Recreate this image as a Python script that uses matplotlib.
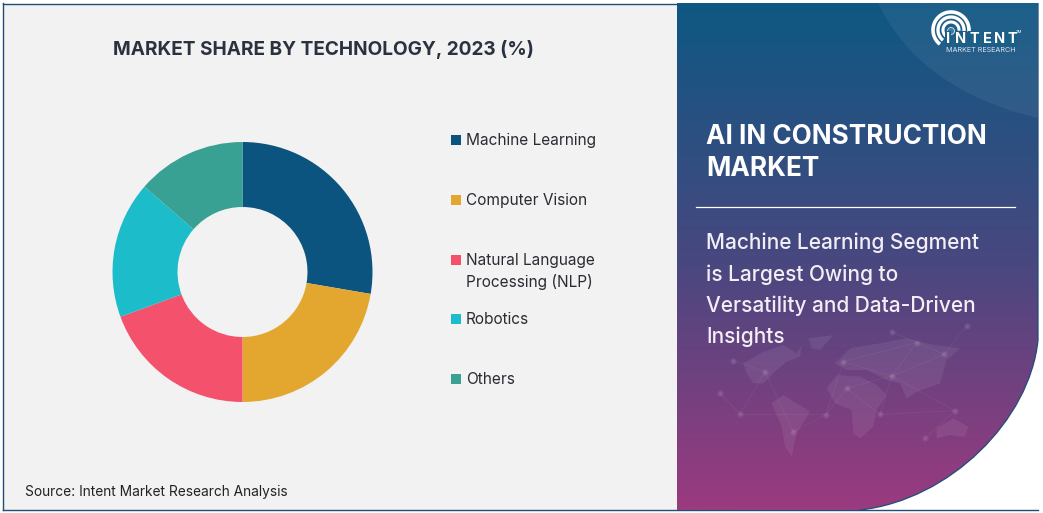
import numpy as np
import matplotlib
matplotlib.use("Agg")
import matplotlib.pyplot as plt
from matplotlib.patches import Rectangle, PathPatch, Polygon, Circle
from matplotlib.path import Path
from matplotlib.colors import LinearSegmentedColormap

categories = ["Machine Learning", "Computer Vision", "Natural Language\nProcessing (NLP)", "Robotics", "Others"]
shares = [27.7, 22.3, 19.4, 17.0, 13.6]
colors = ["#0B5480", "#E3A72F", "#F4516C", "#1CBCCB", "#38A194"]
legend_y = [140, 200, 260, 319, 379]
title = "MARKET SHARE BY TECHNOLOGY, 2023 (%)"
source = "Source: Intent Market Research Analysis"
panel_title = ["AI IN CONSTRUCTION", "MARKET"]
panel_lines = ["Machine Learning Segment", "is Largest Owing to", "Versatility and Data-Driven", "Insights"]

W, H = 1043, 513
plt.rcParams['font.family'] = ['Inter', 'DejaVu Sans']
fig = plt.figure(figsize=(W/100, H/100), dpi=100, facecolor="white")
bg = fig.add_axes([0, 0, 1, 1])
bg.set_xlim(0, W); bg.set_ylim(H, 0); bg.axis("off")

# left panel and frame
bg.add_patch(Rectangle((3, 4), 675, 506, fc="#F2F2F2", ec="none", zorder=1))
bg.plot([3, 677], [3.5, 3.5], color="#1F4E79", lw=1, zorder=2)
bg.plot([3, 1038], [510, 510], color="#1F4E79", lw=1, zorder=2)
bg.plot([2.5, 2.5], [3, 510], color="#1F4E79", lw=1, zorder=2)

# right panel gradient
cmap = LinearSegmentedColormap.from_list("p", [(0, "#0E5883"), (0.5, "#47487F"), (1, "#9B3A80")])
grad = np.linspace(0, 1, 512)[:, None]
im = bg.imshow(grad, cmap=cmap, extent=[677, 1038, 510, 3], aspect="auto", zorder=3)
clip = Path([(677, 3), (1038, 3), (1038, 340), (1030, 420), (950, 500), (860, 510), (677, 510), (677, 3)],
            [Path.MOVETO, Path.LINETO, Path.LINETO, Path.CURVE4, Path.CURVE4, Path.CURVE4, Path.LINETO, Path.CLOSEPOLY])
clip_patch = PathPatch(clip, transform=bg.transData, fc="none", ec="none")
bg.add_patch(clip_patch)
im.set_clip_path(clip_patch)
bg.set_xlim(0, W); bg.set_ylim(H, 0)
edge = PathPatch(Path(clip.vertices[1:6], [Path.MOVETO, Path.LINETO, Path.CURVE4, Path.CURVE4, Path.CURVE4]),
                 fc="none", ec="#1F4E79", lw=0.9, zorder=4)
bg.add_patch(edge)

# light corner
corner = Path([(878, 3), (920, 90), (1038, 118), (1038, 3), (878, 3)],
              [Path.MOVETO, Path.CURVE3, Path.CURVE3, Path.LINETO, Path.CLOSEPOLY])
bg.add_patch(PathPatch(corner, fc="white", alpha=0.06, ec="none", zorder=4))

# faint world map
def zm(pts):
    return [(720 + u/3, 320 + v/3) for u, v in pts]
blobs = [
    [(70,130),(130,95),(190,75),(230,100),(245,75),(240,110),(200,125),(170,150),(130,190),(100,190),(80,160)],
    [(265,55),(340,45),(300,90),(275,85)],
    [(155,250),(190,225),(270,275),(230,340),(215,410),(195,380),(185,320)],
    [(320,205),(350,165),(420,170),(470,195),(500,225),(470,270),(460,320),(420,355),(400,340),(395,270),(345,250)],
    [(345,130),(390,85),(480,70),(560,55),(640,75),(720,85),(680,120),(660,190),(620,205),(590,215),(560,235),(540,190),(500,180),(440,150),(380,150)],
    [(650,325),(700,295),(745,320),(735,350),(690,345),(650,355)],
]
for b in blobs:
    bg.add_patch(Polygon(zm(b), closed=True, fc="white", alpha=0.07, ec="none", zorder=4))
nodes = zm([(40,122),(135,155),(60,283),(220,335),(318,284),(380,205),(515,168),(370,125),(590,68),(672,103),(705,272),(480,283),(515,35),(740,18),(615,355),(0,220)])
links = [(0,1),(1,2),(2,4),(3,4),(4,5),(5,6),(6,7),(6,8),(8,9),(6,10),(10,11),(11,5),(6,11),(7,8),(1,3),(9,13),(12,8),(10,14),(15,2),(7,4),(6,9)]
for a, b in links:
    bg.plot(*zip(nodes[a], nodes[b]), color="white", alpha=0.06, lw=0.6, zorder=4)
bg.scatter(*zip(*nodes), s=22, color="white", alpha=0.07, lw=0, zorder=4)
bg.scatter(*zip(*nodes), s=7, color="white", alpha=0.07, lw=0, zorder=4)

# donut
ax = fig.add_axes([(242.5-130)/W, 1-(272+130)/H, 260/W, 260/H])
ax.pie(shares, colors=colors, startangle=90, counterclock=False, radius=1,
       wedgeprops=dict(width=0.5, linewidth=0))
ax.set_xlim(-1, 1); ax.set_ylim(-1, 1); ax.set_aspect("equal")

# legend
for c, lab, y in zip(colors, categories, legend_y):
    bg.add_patch(Rectangle((451, y-5), 10, 10, fc=c, ec="none", zorder=5))
    for i, part in enumerate(lab.split("\n")):
        bg.text(466, y + 22*i, part, fontsize=11.1, color="#2B2B33", va="center", zorder=5)

bg.text(323, 49.5, title, fontsize=13.7, fontweight="bold", color="#2A3240", ha="center", va="center", zorder=5)
bg.text(25, 492, source, fontsize=9.9, color="#222222", va="center", zorder=5)

# right panel text
for s, y in zip(panel_title, [137, 169]):
    bg.text(706, y, s, fontsize=18.8, fontweight="bold", color="white", va="center", zorder=6)
bg.plot([696, 1015], [206.5, 206.5], color="white", lw=0.9, zorder=6)
for s, y in zip(panel_lines, [243, 275, 306, 337]):
    bg.text(706, y, s, fontsize=15.0, fontweight="medium", color="#F3EEF6", va="center", zorder=6)

# logo
cx, cy = 951, 30
th = np.radians(np.linspace(-5, 232, 80))
for r, lw in zip([8, 13, 18], [2.2, 2.4, 2.6]):
    bg.plot(cx + r*np.cos(th), cy - r*np.sin(th), color="white", lw=lw, solid_capstyle="butt", zorder=6)
bg.add_patch(Circle((cx, cy+1), 3.5, fc="#3E7CA0", ec="white", lw=0.5, zorder=6))
for ch, x in zip("INTENT", [948, 961, 974, 987, 1000, 1012]):
    bg.text(x, 39, ch, fontsize=10.5, fontweight="bold", color="white", ha="center", va="center", zorder=7,
            bbox=dict(fc="#1B5F88", ec="none", pad=0.6))
bg.text(1019, 32, "TM", fontsize=3, color="white", ha="center", va="center", zorder=7)
bg.text(981, 50.5, "MARKET RESEARCH", fontsize=5.2, color="#DDE4EE", ha="center", va="center", zorder=7)

fig.savefig("out.png", dpi=100, facecolor="white")
